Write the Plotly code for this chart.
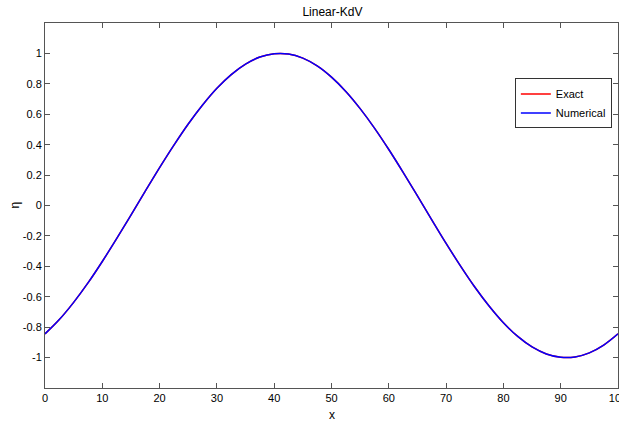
import plotly.graph_objects as go

x_vals = [0, 2.5, 5, 7.5, 10, 12.5, 15, 17.5, 20, 22.5, 25, 27.5, 30, 32.5, 35, 37.5, 40,
          42.5, 45, 47.5, 50, 52.5, 55, 57.5, 60, 62.5, 65, 67.5, 70, 72.5, 75, 77.5, 80,
          82.5, 85, 87.5, 90, 92.5, 95, 97.5, 100]
exact = [-0.844, -0.750, -0.637, -0.509, -0.368, -0.218, -0.063, 0.094, 0.249, 0.397, 0.536,
         0.661, 0.771, 0.861, 0.930, 0.976, 0.998, 0.996, 0.969, 0.918, 0.844, 0.750, 0.637,
         0.509, 0.368, 0.218, 0.063, -0.094, -0.249, -0.397, -0.536, -0.661, -0.771, -0.861,
         -0.930, -0.976, -0.998, -0.996, -0.969, -0.918, -0.844]
numerical = [-0.844, -0.750, -0.637, -0.509, -0.368, -0.218, -0.063, 0.094, 0.249, 0.397, 0.536,
             0.661, 0.771, 0.861, 0.930, 0.976, 0.998, 0.996, 0.969, 0.918, 0.844, 0.750, 0.637,
             0.509, 0.368, 0.218, 0.063, -0.094, -0.249, -0.397, -0.536, -0.661, -0.771, -0.861,
             -0.930, -0.976, -0.998, -0.996, -0.969, -0.918, -0.844]
y_ticks = [-1, -0.8, -0.6, -0.4, -0.2, 0, 0.2, 0.4, 0.6, 0.8, 1]
y_ticktext = ["-1", "-0.8", "-0.6", "-0.4", "-0.2", "0", "0.2", "0.4", "0.6", "0.8", "1"]
x_ticks = [0, 10, 20, 30, 40, 50, 60, 70, 80, 90, 100]

FONT = "Liberation Sans, Arial"

fig = go.Figure()
fig.add_trace(go.Scatter(x=x_vals, y=exact, mode="lines", name="Exact",
                         line=dict(color="#ff0000", width=1.5, shape="spline")))
fig.add_trace(go.Scatter(x=x_vals, y=numerical, mode="lines", name="Numerical",
                         line=dict(color="#0000ff", width=1.5, shape="spline")))

axis_common = dict(showline=True, linecolor="#555555", linewidth=1, mirror="ticks",
                   ticks="inside", ticklen=5, tickcolor="#555555", showgrid=False,
                   zeroline=False, automargin=False, ticklabeloverflow="allow",
                   tickfont=dict(family=FONT, size=11, color="#000000"))

fig.update_layout(
    width=619, height=427,
    margin=dict(l=45, r=1, t=23, b=39),
    paper_bgcolor="white", plot_bgcolor="white",
    title=dict(text="Linear-KdV", x=0.537, xanchor="center", y=0.982, yanchor="top",
               font=dict(family=FONT, size=12, color="#000000")),
    xaxis=dict(range=[0, 100], tickvals=x_ticks, **axis_common),
    yaxis=dict(range=[-1.2, 1.2], tickvals=y_ticks, ticktext=y_ticktext, **axis_common),
    legend=dict(x=0.82, y=0.848, xanchor="left", yanchor="top",
                bordercolor="#333333", borderwidth=1, bgcolor="white",
                font=dict(family=FONT, size=11, color="#000000"),
                tracegroupgap=0, itemwidth=30),
    showlegend=True,
    annotations=[
        dict(text="x", xref="paper", yref="paper", x=0.5, y=-0.074, xanchor="center",
             yanchor="middle", showarrow=False, font=dict(family=FONT, size=12, color="#000000")),
        dict(text="η", xref="paper", yref="paper", x=-0.054, y=0.5, xanchor="center",
             yanchor="middle", textangle=-90, showarrow=False,
             font=dict(family=FONT, size=12, color="#000000")),
    ],
)

fig.write_html("out.html")
